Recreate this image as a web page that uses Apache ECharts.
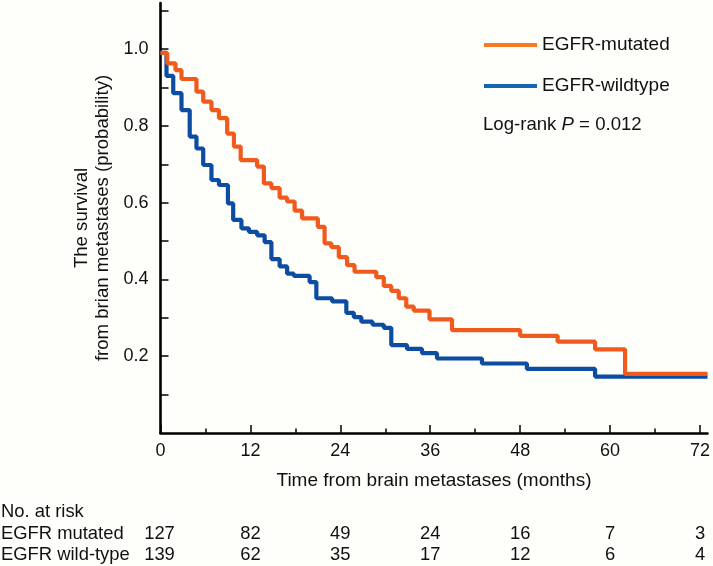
<!DOCTYPE html>
<html>
<head>
<meta charset="utf-8">
<script src="https://cdn.jsdelivr.net/npm/echarts@6/dist/echarts.min.js"></script>
<style>
html,body{margin:0;padding:0;background:#fefefa;}
#c{width:713px;height:566px;}
</style>
</head>
<body>
<div id="c"></div>
<script>
// Kaplan-Meier step data (time in months, survival probability after drop)
const mutatedT = [0, 0.9, 2.0, 2.8, 4.8, 5.7, 6.8, 7.8, 8.9, 9.8, 10.7, 12.9, 13.8, 14.8, 15.9, 16.9, 17.9, 18.9, 21.0, 21.9, 22.8, 23.8, 24.9, 25.9, 28.8, 29.8, 30.8, 31.8, 32.8, 33.8, 35.9, 38.9, 48.0, 53.0, 58.0, 62.0, 73];
const mutatedS = [0.99, 0.963, 0.945, 0.922, 0.889, 0.863, 0.841, 0.82, 0.78, 0.746, 0.711, 0.694, 0.650, 0.638, 0.613, 0.603, 0.579, 0.559, 0.537, 0.494, 0.484, 0.458, 0.437, 0.42, 0.406, 0.383, 0.370, 0.351, 0.329, 0.319, 0.296, 0.268, 0.253, 0.238, 0.218, 0.154, 0.154];
const wildT = [0, 0.8, 1.7, 2.8, 3.9, 4.8, 5.7, 6.8, 7.8, 9.0, 9.7, 10.8, 11.8, 12.9, 13.9, 14.8, 15.9, 16.9, 17.8, 19.9, 20.8, 22.9, 24.8, 25.8, 26.8, 28.3, 29.8, 30.8, 32.9, 34.9, 36.9, 42.9, 48.9, 58.0, 73];
const wildS = [0.99, 0.93, 0.885, 0.841, 0.772, 0.741, 0.698, 0.659, 0.646, 0.598, 0.555, 0.533, 0.524, 0.515, 0.497, 0.453, 0.434, 0.415, 0.409, 0.393, 0.351, 0.343, 0.313, 0.302, 0.290, 0.282, 0.274, 0.229, 0.219, 0.208, 0.194, 0.181, 0.167, 0.147, 0.147];

const xMajorTicks = [0, 12, 24, 36, 48, 60, 72];
const xMinorTicks = [6, 18, 30, 42, 54, 66];
const yTicks = [0.1, 0.2, 0.3, 0.4, 0.5, 0.6, 0.7, 0.8, 0.9, 1.0, 1.1];
const yLabels = [0.2, 0.4, 0.6, 0.8, 1.0];

const riskTimes = [0, 12, 24, 36, 48, 60, 72];
const riskMutated = [127, 82, 49, 24, 16, 7, 3];
const riskWild = [139, 62, 35, 17, 12, 6, 4];

const FONT = "'Liberation Sans', Arial, Helvetica, sans-serif";
const ORANGE = '#F15A1D', BLUE = '#0C4DA2';
const ORANGE_L = '#F47B20', BLUE_L = '#1565B4';

const pairs = (t, s) => t.map((v, i) => [v, s[i]]);

const chart = echarts.init(document.getElementById('c'), null, {renderer: 'canvas'});
const axisTextColor = '#111';

const option = {
  backgroundColor: '#fefefa',
  animation: false,
  textStyle: {fontFamily: FONT},
  grid: {left: 160.5, right: 3.5, top: 3, bottom: 133, containLabel: false},
  xAxis: [{
    type: 'value', min: 0, max: 73, position: 'bottom',
    axisLine: {show: true, lineStyle: {color: '#000', width: 2.6}},
    axisTick: {show: true, inside: true, length: 8, lineStyle: {color: '#000', width: 1.5}, customValues: xMajorTicks},
    axisLabel: {show: true, margin: 9, fontSize: 18, color: axisTextColor, fontFamily: FONT, customValues: xMajorTicks},
    splitLine: {show: false},
    name: 'Time from brain metastases (months)', nameLocation: 'middle', nameGap: 38,
    nameTextStyle: {fontSize: 19, color: axisTextColor, fontFamily: FONT}
  }, {
    type: 'value', min: 0, max: 73, position: 'bottom',
    axisLine: {show: false},
    axisTick: {show: true, inside: true, length: 4.5, lineStyle: {color: '#000', width: 1.5}, customValues: xMinorTicks},
    axisLabel: {show: false},
    splitLine: {show: false}
  }],
  yAxis: {
    type: 'value', min: 0, max: 1.12,
    axisLine: {show: true, lineStyle: {color: '#000', width: 2.6}},
    axisTick: {show: true, inside: true, length: 8, lineStyle: {color: '#000', width: 1.5}, customValues: yTicks},
    axisLabel: {show: true, margin: 12, fontSize: 18, color: axisTextColor, fontFamily: FONT, customValues: yLabels,
      formatter: v => v.toFixed(1)},
    splitLine: {show: false}
  },
  legend: {
    orient: 'vertical', left: 484, top: 35, padding: 0,
    icon: 'rect', itemWidth: 53, itemHeight: 4, itemGap: 21,
    textStyle: {fontSize: 19, lineHeight: 20, color: '#111', fontFamily: FONT},
    data: [
      {name: 'EGFR-mutated', itemStyle: {color: ORANGE_L}},
      {name: 'EGFR-wildtype', itemStyle: {color: BLUE_L}}
    ]
  },
  series: [{
    name: 'EGFR-wildtype', type: 'line', step: 'end', symbol: 'none', xAxisIndex: 0,
    data: pairs(wildT, wildS), lineStyle: {color: BLUE, width: 4.2}, itemStyle: {color: BLUE}, z: 2
  }, {
    name: 'EGFR-mutated', type: 'line', step: 'end', symbol: 'none', xAxisIndex: 0,
    data: pairs(mutatedT, mutatedS), lineStyle: {color: ORANGE, width: 4.2}, itemStyle: {color: ORANGE}, z: 3
  }]
};
chart.setOption(option);

// Text annotations (at-risk table, y title, log-rank)
const g = [];
g.push({
  type: 'text', x: 92.5, y: 218, rotation: Math.PI / 2,
  style: {text: 'The survival\nfrom brian metastases (probability)', font: '18.6px ' + FONT, fill: '#111',
    align: 'center', verticalAlign: 'middle', lineHeight: 21}
});
g.push({
  type: 'text', x: 483, y: 125,
  style: {
    text: '{a|Log-rank }{b|P}{a| = 0.012}', verticalAlign: 'middle', align: 'left',
    rich: {
      a: {fontSize: 18.6, fontFamily: FONT, fill: '#111', color: '#111'},
      b: {fontSize: 18.6, fontFamily: FONT, fontStyle: 'italic', fill: '#111', color: '#111'}
    }
  }
});
const rows = [
  {label: 'No. at risk', y: 511.5, vals: null},
  {label: 'EGFR mutated', y: 533.5, vals: riskMutated},
  {label: 'EGFR wild-type', y: 555, vals: riskWild}
];
rows.forEach(r => {
  g.push({type: 'text', x: 1, y: r.y, style: {text: r.label, font: '18.4px ' + FONT, fill: '#111', align: 'left', verticalAlign: 'middle'}});
  if (r.vals) {
    r.vals.forEach((v, i) => {
      const px = chart.convertToPixel({xAxisIndex: 0}, riskTimes[i]);
      g.push({type: 'text', x: i === 0 ? px - 1 : px, y: r.y,
        style: {text: String(v), font: '18.4px ' + FONT, fill: '#111', align: 'center', verticalAlign: 'middle'}});
    });
  }
});
chart.setOption({graphic: g});
</script>
</body>
</html>
